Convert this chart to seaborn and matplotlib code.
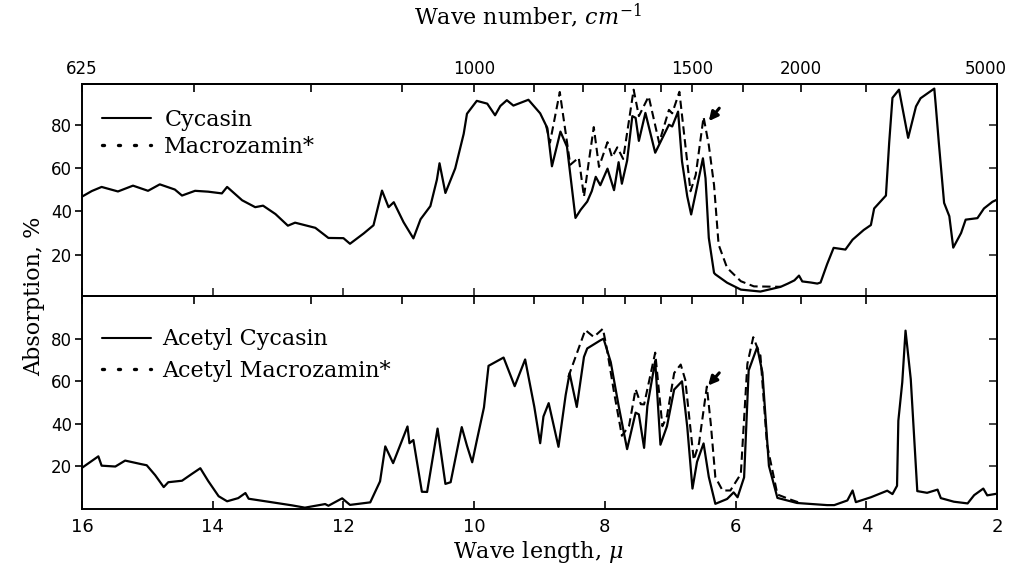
import numpy as np
import matplotlib
matplotlib.use("Agg")
import matplotlib.pyplot as plt
import matplotlib.transforms as mtransforms
import seaborn as sns
from matplotlib.lines import Line2D

# ---------------- data ----------------
# wavelength in micrometres, absorption in %
cyc_w = [16.0, 15.85, 15.70, 15.45, 15.22, 14.99, 14.81, 14.58, 14.47, 14.27, 14.07, 13.86,
         13.78, 13.55, 13.35, 13.23, 13.04, 12.85, 12.74, 12.43, 12.23, 12.00, 11.90, 11.69,
         11.54, 11.41, 11.31, 11.23, 11.08, 10.93, 10.82, 10.67, 10.57, 10.53, 10.44, 10.29,
         10.16, 10.11, 9.96, 9.80, 9.68, 9.60, 9.50, 9.40, 9.17, 8.99, 8.88, 8.81, 8.68,
         8.58, 8.45, 8.37, 8.27, 8.20, 8.14, 8.07, 7.96, 7.86, 7.79, 7.74, 7.66, 7.58, 7.53,
         7.48, 7.38, 7.23, 7.02, 6.97, 6.88, 6.82, 6.74, 6.68, 6.61, 6.50, 6.46, 6.41, 6.33,
         6.31, 6.13, 5.92, 5.62, 5.45, 5.31, 5.20, 5.10, 5.03, 4.98, 4.85, 4.75, 4.70, 4.60,
         4.50, 4.32, 4.21, 4.04, 3.93, 3.88, 3.70, 3.65, 3.60, 3.50, 3.36, 3.24, 3.17, 2.96,
         2.94, 2.89, 2.81, 2.73, 2.67, 2.55, 2.48, 2.30, 2.20, 2.07, 2.00]
cyc_a = [46.9, 49.5, 51.4, 49.3, 52.0, 49.6, 52.6, 50.2, 47.4, 49.6, 49.2, 48.4,
         51.4, 45.2, 42.0, 42.7, 38.8, 33.4, 34.8, 32.4, 27.7, 27.6, 25.0, 29.8,
         33.6, 49.7, 42.0, 44.3, 35.0, 27.5, 36.4, 42.5, 54.8, 62.4, 48.6, 60.0,
         76.1, 85.4, 91.4, 90.1, 84.7, 89.0, 91.7, 89.2, 91.9, 85.6, 78.7, 61.0, 77.1,
         70.1, 37.0, 40.8, 44.6, 49.5, 56.1, 52.2, 59.9, 49.9, 62.9, 52.9, 63.6, 84.3, 83.5,
         72.8, 85.8, 67.3, 80.3, 79.5, 86.4, 63.3, 47.1, 38.6, 48.6, 64.7, 55.4, 27.7, 11.5,
         10.8, 6.9, 3.7, 2.8, 4.0, 5.0, 6.5, 8.0, 10.2, 7.5, 7.0, 6.5, 7.0, 15.5,
         23.1, 22.3, 26.9, 31.4, 33.7, 41.4, 47.4, 72.0, 92.8, 96.6, 74.2, 88.8, 92.6, 97.1,
         90.2, 71.7, 44.0, 37.8, 23.2, 30.0, 36.2, 36.9, 41.4, 44.5, 45.5]

mac_w = [8.90, 8.84, 8.69, 8.53, 8.40, 8.32, 8.25, 8.17, 8.09, 7.96, 7.89, 7.81, 7.72,
         7.56, 7.48, 7.33, 7.17, 7.02, 6.97, 6.86, 6.69, 6.61, 6.49, 6.41, 6.33, 6.26,
         6.13, 5.92, 5.72, 5.52, 5.31]
mac_a = [80.0, 72.0, 95.5, 61.7, 65.0, 46.9, 62.3, 79.2, 60.7, 72.2, 65.2, 69.8, 64.4,
         96.6, 84.3, 93.5, 71.9, 87.2, 85.6, 95.6, 49.4, 57.0, 83.9, 70.8, 52.3, 24.6,
         13.8, 7.6, 5.2, 5.1, 5.0]

acyc_w = [16.0, 15.75, 15.70, 15.49, 15.34, 15.09, 15.01, 14.88, 14.75, 14.68, 14.47, 14.32,
          14.19, 14.07, 13.91, 13.78, 13.61, 13.50, 13.45, 13.15, 12.79, 12.59, 12.28, 12.23,
          12.02, 11.90, 11.59, 11.44, 11.36, 11.24, 11.02, 10.99, 10.93, 10.80, 10.72, 10.56,
          10.44, 10.36, 10.19, 10.11, 10.03, 9.96, 9.85, 9.78, 9.55, 9.42, 9.38, 9.22, 9.08,
          8.99, 8.94, 8.86, 8.71, 8.60, 8.54, 8.43, 8.32, 8.27, 8.07, 8.02, 7.91, 7.79, 7.66,
          7.53, 7.48, 7.40, 7.35, 7.23, 7.15, 7.05, 6.94, 6.82, 6.74, 6.66, 6.59, 6.49, 6.41,
          6.31, 6.13, 6.03, 5.97, 5.87, 5.80, 5.67, 5.59, 5.49, 5.36, 5.06, 4.60, 4.49, 4.29,
          4.21, 4.16, 3.93, 3.68, 3.60, 3.53, 3.51, 3.45, 3.40, 3.32, 3.22, 3.07, 2.91, 2.86,
          2.66, 2.45, 2.35, 2.21, 2.15, 2.00]
acyc_a = [19.2, 24.6, 20.2, 19.8, 22.6, 20.9, 20.4, 15.7, 10.1, 12.4, 13.1, 16.3,
          19.0, 13.0, 5.8, 3.4, 4.9, 7.3, 4.6, 3.2, 1.5, 0.4, 2.1, 1.3,
          4.8, 1.7, 2.9, 12.8, 29.3, 21.4, 38.7, 30.8, 32.3, 7.9, 7.8, 37.7,
          11.6, 12.4, 38.4, 29.6, 21.8, 32.0, 47.7, 67.3, 71.2, 60.9, 57.7, 70.3, 48.0,
          30.8, 43.4, 49.7, 29.1, 53.5, 63.8, 47.9, 71.5, 75.5, 79.3, 80.1, 69.0, 48.5, 28.0,
          45.2, 44.4, 28.6, 48.3, 69.6, 30.1, 38.8, 56.1, 60.0, 38.6, 9.4, 22.0, 30.7, 14.9,
          2.2, 4.5, 7.6, 5.3, 14.7, 65.1, 76.1, 64.2, 20.1, 5.0, 2.6, 1.6, 1.6, 3.8,
          8.5, 3.0, 5.3, 8.4, 6.8, 10.7, 41.4, 59.5, 83.9, 61.0, 8.2, 7.4, 8.9, 4.9,
          3.2, 2.4, 6.3, 9.4, 6.2, 7.0]

amac_w = [8.56, 8.30, 8.17, 8.03, 7.97, 7.86, 7.74, 7.63, 7.53, 7.45, 7.40, 7.23, 7.12,
          7.05, 6.94, 6.84, 6.77, 6.64, 6.56, 6.44, 6.38, 6.31, 6.20, 6.08, 5.92, 5.82,
          5.73, 5.62, 5.52, 5.36, 5.16, 5.00]
amac_a = [62.0, 84.2, 80.9, 84.8, 75.4, 54.8, 34.3, 39.0, 56.3, 49.2, 49.1, 73.5, 38.8,
          43.5, 63.9, 67.9, 60.7, 22.9, 30.7, 57.5, 40.1, 14.8, 8.5, 8.5, 16.3, 68.2,
          80.8, 72.1, 30.3, 6.6, 4.2, 2.5]

wl_ticks = [16, 14, 12, 10, 8, 6, 4, 2]
wn_major = [625, 1000, 1500, 2000, 5000]
wn_minor = [700, 800, 900, 1100, 1200, 1300, 1400, 1700, 2500]
y_ticks = [20, 40, 60, 80]

# ---------------- style ----------------
sns.set_theme(style="white")
plt.rcParams['font.family'] = ['DejaVu Sans']
plt.rcParams['mathtext.fontset'] = 'dejavuserif'
plt.rcParams['axes.edgecolor'] = 'black'
plt.rcParams['axes.linewidth'] = 1.4
plt.rcParams['text.color'] = 'black'

SERIF = 'DejaVu Serif'
DASH = (0, (4.0, 2.2))

fig = plt.figure(figsize=(10.15, 5.64), dpi=100)
ax1 = fig.add_axes([0.0808, 0.4743, 0.9015, 0.3759])
ax2 = fig.add_axes([0.0808, 0.0984, 0.9015, 0.3759])


def w2n(w):
    w = np.asarray(w, dtype=float)
    with np.errstate(divide='ignore', invalid='ignore'):
        return 10000.0 / w


sns.lineplot(x=cyc_w, y=cyc_a, ax=ax1, color='black', lw=1.6, estimator=None, sort=False)
sns.lineplot(x=mac_w, y=mac_a, ax=ax1, color='black', lw=1.5, linestyle=DASH,
             estimator=None, sort=False)
sns.lineplot(x=acyc_w, y=acyc_a, ax=ax2, color='black', lw=1.6, estimator=None, sort=False)
sns.lineplot(x=amac_w, y=amac_a, ax=ax2, color='black', lw=1.5, linestyle=DASH,
             estimator=None, sort=False)

top_secax = None
for ax, ylim in ((ax1, (0.5, 99)), (ax2, (0, 100))):
    ax.set_xlim(16, 2)
    ax.set_ylim(*ylim)
    ax.set_yticks(y_ticks)
    ax.set_xticks(wl_ticks)
    ax.set_xlabel('')
    ax.set_ylabel('')
    ax.tick_params(axis='y', direction='out', length=5, width=1.2, pad=2,
                   labelsize=12, colors='black', left=True)
    for s in ax.spines.values():
        s.set_visible(True)
        s.set_color('black')
        s.set_linewidth(1.4)
    ry = ax.secondary_yaxis('right')
    ry.set_yticks(y_ticks)
    ry.tick_params(direction='in', length=6, width=1.2, labelright=False)
    sx = ax.secondary_xaxis('top', functions=(w2n, w2n))
    sx.set_xticks(wn_major)
    sx.set_xticks(wn_minor, minor=True)
    sx.tick_params(which='both', direction='in', length=6, width=1.2, pad=5,
                   labelsize=12, colors='black')
    if ax is ax2:
        sx.tick_params(which='both', labeltop=False)
    else:
        top_secax = sx

ax1.tick_params(axis='x', direction='in', length=6, width=1.2, bottom=True,
                labelbottom=False)
ax2.tick_params(axis='x', direction='in', length=6, width=1.2, bottom=True,
                labelbottom=True, labelsize=13, pad=7, colors='black')

# keep the last wavenumber label ("5000") inside the figure, as in the reference
fig.canvas.draw()
for lab in top_secax.xaxis.get_majorticklabels():
    if lab.get_text() == '5000':
        lab.set_transform(lab.get_transform() +
                          mtransforms.ScaledTranslation(-11 / 100, 0, fig.dpi_scale_trans))

# legends
h_solid = Line2D([], [], color='black', lw=1.5)
h_dot = Line2D([], [], color='black', lw=2.4, linestyle=(0, (0.6, 4.2)),
               dash_capstyle='round')
ax1.legend([h_solid, h_dot], ['Cycasin', 'Macrozamin*'], loc='upper left',
           bbox_to_anchor=(0.022, 0.885), frameon=False,
           prop={'family': SERIF, 'size': 16}, handlelength=2.2, handletextpad=0.6,
           labelspacing=0.22, borderpad=0, borderaxespad=0, labelcolor='black')
ax2.legend([h_solid, h_dot], ['Acetyl Cycasin', 'Acetyl Macrozamin*'], loc='upper left',
           bbox_to_anchor=(0.022, 0.85), frameon=False,
           prop={'family': SERIF, 'size': 16}, handlelength=2.2, handletextpad=0.5,
           labelspacing=0.42, borderpad=0, borderaxespad=0, labelcolor='black')

# arrows marking the extra band of macrozamin
arrow = dict(arrowstyle='-|>', color='black', lw=2.2, mutation_scale=13,
             shrinkA=0, shrinkB=0)
ax1.annotate('', xy=(6.41, 82), xytext=(6.25, 88), arrowprops=arrow)
ax2.annotate('', xy=(6.42, 58), xytext=(6.25, 64), arrowprops=arrow)

# axis titles
fig.text(0.52, 0.972, r'Wave number, $cm^{-1}$', ha='center', va='center',
         fontsize=16, family=SERIF, color='black')
fig.text(0.53, 0.022, r'Wave length, $\mu$', ha='center', va='center',
         fontsize=16, family=SERIF, color='black')
fig.text(0.034, 0.475, 'Absorption, %', ha='center', va='center', rotation=90,
         fontsize=16, family=SERIF, color='black')

fig.savefig('out.png', dpi=100, facecolor='white')
